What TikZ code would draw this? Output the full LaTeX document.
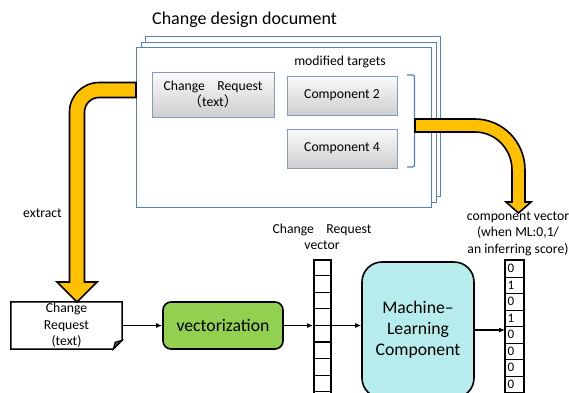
\documentclass[tikz,border=0pt]{standalone}
\usepackage{fontspec}
\setmainfont{Carlito}
\newfontfamily\cjk{Noto Sans CJK JP}
\usetikzlibrary{arrows.meta,calc}
\definecolor{docblue}{RGB}{84,130,190}
\definecolor{boxedge}{RGB}{128,156,192}
\definecolor{arrowyellow}{RGB}{255,192,0}
\definecolor{vecgreen}{RGB}{146,208,80}
\definecolor{mlcyan}{RGB}{183,236,236}
\newcommand{\fsSmall}{\fontsize{13.7}{16.5}\selectfont}
\newcommand{\fsBig}{\fontsize{17.7}{21}\selectfont}
\newcommand{\wgap}{\hspace{0.9em}}
\begin{document}
\begin{tikzpicture}[x=1pt,y=-1pt,
  docpage/.style={draw=docblue,fill=white,line width=0.9pt,anchor=north west,
    minimum width=295pt,minimum height=160pt,inner sep=0pt},
  graybox/.style={draw=boxedge,line width=0.9pt,top color=gray!4,bottom color=gray!38,
    minimum width=110pt,minimum height=39pt,inner sep=0pt,align=center,font=\fsSmall},
  plain/.style={inner sep=0pt,align=center,font=\fsSmall},
  flow/.style={-{Latex[length=6pt,width=5pt]},line width=1.2pt},
  yarrow/.style={fill=arrowyellow,draw=black,line width=1.6pt,line join=miter},
  vecframe/.style={draw=black,line width=1.8pt,inner sep=0pt},
  vecsep/.style={draw=black,line width=1.1pt},
  cvcell/.style={draw=black,line width=1.1pt,inner xsep=2pt,inner ysep=0pt,
    text width=14pt,align=left,minimum height=16.5pt,anchor=north west,
    font=\fontsize{13}{14}\selectfont}
]
\useasboundingbox (0,0) rectangle (569,392);

% stacked design-document pages
\node[docpage] (back) at (145,36) {};
\node[docpage] (middle) at (140.5,41.5) {};
\node[docpage] (front) at (136,47) {};
\node[anchor=base west,inner sep=0pt,font=\fontsize{18}{21}\selectfont] (title) at (152,24) {Change design document};

% contents of the front page
\node[graybox,minimum width=122pt,minimum height=45pt] (crtext) at (213,94.5)
  {Change\wgap Request\\{\cjk （}text{\cjk ）}};
\node[plain] (modlabel) at (340,62) {modified targets};
\node[graybox] (comp2) at (342,95.5) {Component 2};
\node[graybox] (comp4) at (342,148.5) {Component 4};
\draw[docblue,line width=1.3pt,rounded corners=2pt]
  (407,75) -- (414.5,75) -- (414.5,167) -- (407,167);

% extracted change request (document with folded corner)
\node[plain,minimum width=111pt,minimum height=47pt] (crdoc) at (66.5,325.5)
  {Change\\Request\\(text)};
\draw[line width=1.5pt,line join=miter]
  (crdoc.north west) -- (crdoc.north east) -- ([yshift=9pt]crdoc.south east)
  -- ([xshift=-9pt]crdoc.south east) -- (crdoc.south west) -- cycle;
\draw[line width=1.1pt,fill=black!70]
  ([yshift=9pt]crdoc.south east) -- ([xshift=-7pt,yshift=7pt]crdoc.south east)
  -- ([xshift=-9pt]crdoc.south east) -- cycle;

\node[plain] (extract) at (42.5,213) {extract};

% vectorization step
\node[draw=black,line width=1.6pt,fill=vecgreen,rounded corners=8pt,
  minimum width=120pt,minimum height=47pt,inner sep=0pt,font=\fsBig] (vec) at (223,325.5)
  {vectorization};

% change request vector
\node[plain] (crlabel) at (322,237) {Change\wgap Request\\vector};
\node[vecframe,minimum width=17pt,minimum height=145pt,anchor=north west] (crvec) at (313,259) {};
\foreach \i in {1,...,8}
  \draw[vecsep] ($(crvec.north west)+(0,\i*16.6)$) -- ++(17,0);

% machine-learning component
\node[draw=black,line width=1.6pt,fill=mlcyan,rounded corners=20pt,
  minimum width=112pt,minimum height=136pt,inner sep=0pt,align=center,font=\fsBig] (ml) at (418,330)
  {Machine–\\Learning\\Component};

% component vector
\node[plain] (cvlabel) at (518,233.5) {component vector\\(when ML:0,1/\\an inferring score)};
\foreach \d [count=\i] in {0,1,0,1,0,0,0,0}
  \node[cvcell] (cv\i) at (505,{260+(\i-1)*16.5}) {\d};
\draw[line width=1.8pt] (cv1.north west) rectangle ($(cv8.south east)+(0,10)$);

% data flow
\draw[flow] (crdoc.east) -- (vec.west);
\draw[flow] (vec.east) -- (vec.east -| crvec.west);
\draw[flow] (vec.east -| crvec.west) -- (vec.east -| ml.west);
\draw[flow] (ml.east) -- (ml.east -| cv1.west);

% extraction arrow (document -> change request text)
\draw[yarrow]
  (136,82.5) -- (99,82.5) .. controls (82.7,82.5) and (69.5,95.8) .. (69.5,112)
  -- (69.5,282) -- (57,282) -- (77,302) -- (97,282) -- (84.5,282) -- (84.5,112)
  .. controls (84.5,104) and (91,97.5) .. (99,97.5) -- (136,97.5) -- cycle;

% modified targets -> component vector
\draw[yarrow]
  (415,119) -- (475,119) .. controls (502.6,119) and (525,141.8) .. (525,170)
  -- (525,202) -- (531,202) -- (518.5,213) -- (506,202) -- (512,202) -- (512,170)
  .. controls (512,149) and (495.4,132) .. (475,132) -- (415,132) -- cycle;
\end{tikzpicture}
\end{document}
